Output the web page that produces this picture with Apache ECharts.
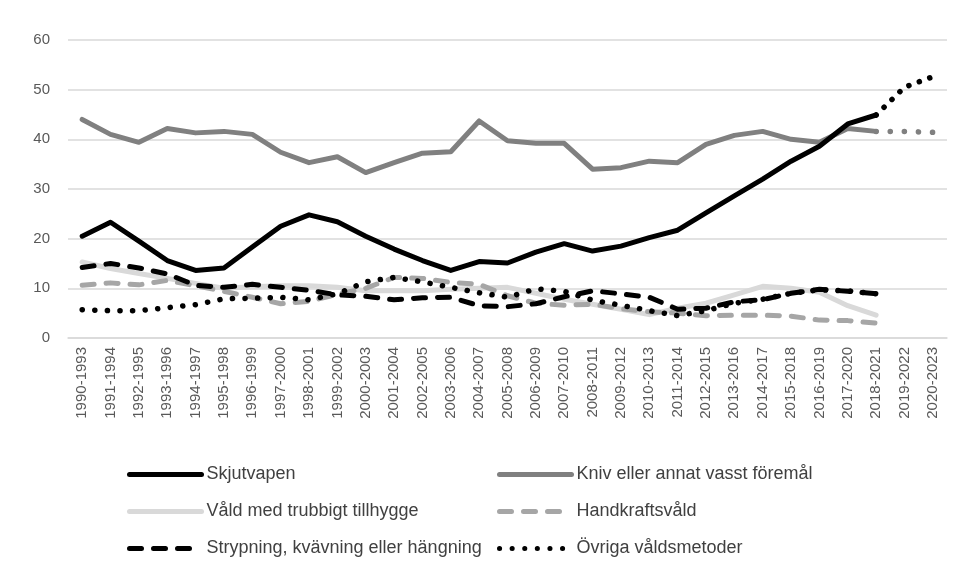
<!DOCTYPE html>
<html>
<head>
<meta charset="utf-8">
<script src="https://cdn.jsdelivr.net/npm/echarts@6/dist/echarts.min.js"></script>
<style>
  html, body { margin: 0; padding: 0; background: #fff; }
  #chart { width: 964px; height: 571px; }
</style>
</head>
<body>
<div id="chart"></div>
<script>
// Rolling three-year periods
const periods = [
  '1990-1993', '1991-1994', '1992-1995', '1993-1996', '1994-1997', '1995-1998',
  '1996-1999', '1997-2000', '1998-2001', '1999-2002', '2000-2003', '2001-2004',
  '2002-2005', '2003-2006', '2004-2007', '2005-2008', '2006-2009', '2007-2010',
  '2008-2011', '2009-2012', '2010-2013', '2011-2014', '2012-2015', '2013-2016',
  '2014-2017', '2015-2018', '2016-2019', '2017-2020', '2018-2021', '2019-2022',
  '2020-2023'
];

const skjutvapen = [20.5, 23.3, 19.5, 15.6, 13.6, 14.1, 18.3, 22.5, 24.8, 23.4,
  20.5, 17.9, 15.6, 13.6, 15.4, 15.1, 17.3, 19.0, 17.5, 18.5,
  20.2, 21.7, 25.2, 28.6, 32.0, 35.6, 38.6, 43.1, 44.9];
// Dotted continuation for the latest periods
const skjutvapenExt = [44.9, 50.5, 52.6];

const kniv = [44.0, 41.0, 39.4, 42.2, 41.3, 41.6, 41.0, 37.4, 35.3, 36.5,
  33.3, 35.3, 37.2, 37.5, 43.7, 39.7, 39.2, 39.2, 34.0, 34.3,
  35.6, 35.3, 39.0, 40.8, 41.6, 40.0, 39.4, 42.2, 41.6];
const knivExt = [41.6, 41.6, 41.4];

const trubbigt = [15.3, 14.0, 13.0, 12.0, 11.0, 10.0, 10.3, 10.5, 10.5, 10.2,
  9.5, 9.5, 9.5, 9.8, 10.0, 10.2, 9.0, 7.8, 6.8, 5.8,
  4.7, 6.0, 7.0, 8.7, 10.4, 10.0, 9.2, 6.5, 4.6];

const handkraft = [10.6, 11.1, 10.7, 11.6, 10.5, 9.4, 8.2, 6.9, 7.4, 8.8,
  10.0, 12.2, 12.0, 11.2, 10.8, 8.5, 7.0, 6.6, 6.8, 5.9,
  5.3, 5.0, 4.5, 4.6, 4.6, 4.4, 3.6, 3.5, 3.0];

const strypning = [14.2, 15.0, 14.1, 12.9, 10.6, 10.2, 10.8, 10.2, 9.6, 8.7,
  8.4, 7.7, 8.1, 8.2, 6.5, 6.3, 6.9, 8.3, 9.5, 8.9,
  8.2, 5.8, 6.0, 7.3, 7.7, 9.0, 9.8, 9.4, 8.9];

const ovriga = [5.7, 5.5, 5.5, 6.1, 6.7, 7.9, 8.0, 8.2, 7.7, 8.9,
  11.3, 12.2, 11.3, 10.2, 9.1, 8.2, 9.9, 9.4, 7.6, 6.6,
  5.5, 4.5, 5.5, 7.0, 7.8, 9.0, 9.7, 9.5, 8.9];

const yTicks = { min: 0, max: 60, step: 10 };

// Pad a partial series so it starts at a given category index
function offset(values, start) {
  const out = new Array(start).fill(null);
  return out.concat(values);
}

const FONT = 'Liberation Sans';
const LW = 5;

function lineSeries(name, data, color, dash, z, width) {
  return {
    name: name,
    type: 'line',
    data: data,
    symbol: 'none',
    z: z,
    lineStyle: { color: color, width: width || LW, type: dash || 'solid', cap: 'round', join: 'round' },
    itemStyle: { color: color },
    emphasis: { disabled: true },
    animation: false
  };
}

const dashed = [12, 12];
const dotted = [0.1, 12.5];

const chart = echarts.init(document.getElementById('chart'), null, { renderer: 'canvas' });

const legendCommon = {
  orient: 'vertical',
  top: 465,
  padding: 0,
  itemWidth: 72,
  itemHeight: 14,
  itemGap: 18,
  itemStyle: { opacity: 0 },
  lineStyle: { width: 5, cap: 'round' },
  textStyle: { fontFamily: FONT, fontSize: 18, lineHeight: 19, color: '#404040' },
  selectedMode: false
};

chart.setOption({
  backgroundColor: '#ffffff',
  animation: false,
  grid: { left: 68, right: 17, top: 40, bottom: 233, containLabel: false },
  legend: [
    Object.assign({}, legendCommon, {
      left: 127,
      data: ['Skjutvapen', 'Våld med trubbigt tillhygge', 'Strypning, kvävning eller hängning']
    }),
    Object.assign({}, legendCommon, {
      left: 497,
      data: ['Kniv eller annat vasst föremål', 'Handkraftsvåld', 'Övriga våldsmetoder']
    })
  ],
  xAxis: {
    type: 'category',
    data: periods,
    boundaryGap: true,
    axisLine: { show: true, lineStyle: { color: '#d9d9d9', width: 1.5 } },
    axisTick: { show: false },
    axisLabel: {
      interval: 0,
      rotate: 90,
      margin: 9,
      fontFamily: FONT,
      fontSize: 15,
      color: '#595959'
    },
    splitLine: { show: false }
  },
  yAxis: {
    type: 'value',
    min: yTicks.min,
    max: yTicks.max,
    interval: yTicks.step,
    axisLine: { show: false },
    axisTick: { show: false },
    axisLabel: { margin: 18, fontFamily: FONT, fontSize: 15, color: '#595959' },
    splitLine: { lineStyle: { color: '#d9d9d9', width: 1.5 } }
  },
  series: [
    lineSeries('Våld med trubbigt tillhygge', trubbigt, '#d9d9d9', 'solid', 2),
    lineSeries('Handkraftsvåld', handkraft, '#a6a6a6', dashed, 3),
    lineSeries('Kniv eller annat vasst föremål', kniv, '#808080', 'solid', 4),
    lineSeries('Kniv eller annat vasst föremål (forts.)', offset(knivExt, 28), '#808080', [0.1, 14], 4, 5.5),
    lineSeries('Övriga våldsmetoder', ovriga, '#000000', dotted, 5, 5.5),
    lineSeries('Strypning, kvävning eller hängning', strypning, '#000000', dashed, 6),
    lineSeries('Skjutvapen', skjutvapen, '#000000', 'solid', 7),
    lineSeries('Skjutvapen (forts.)', offset(skjutvapenExt, 28), '#000000', [0.1, 11], 7, 5.5)
  ]
});
</script>
</body>
</html>
